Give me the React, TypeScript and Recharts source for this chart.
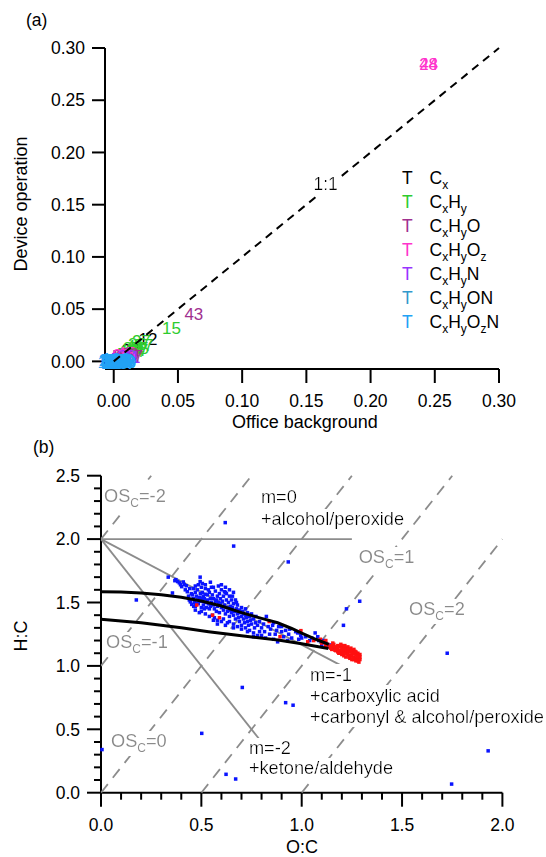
import React from "react";
import { ScatterChart, Scatter, XAxis, YAxis } from "recharts";

const FONT = '"Liberation Sans", Arial, Helvetica, sans-serif';
const FS = 17.5;
const NOTE_FS = 18.2;

// ---------- panel (a): fragment m/z labels, office background vs device operation ----------
const aTicks = [0, 0.05, 0.1, 0.15, 0.2, 0.25, 0.3];

const cxLabels = [
  { t: "12", x: 0.0266, y: 0.0215 },
  { t: "24", x: 0.0135, y: 0.0105 },
  { t: "36", x: 0.0045, y: 0.0025 },
];
const cxhyLabels = [
  { t: "15", x: 0.0449, y: 0.032 },
  { t: "27", x: 0.0215, y: 0.0195 },
  { t: "26", x: 0.0185, y: 0.017 },
  { t: "41", x: 0.017, y: 0.0145 },
  { t: "39", x: 0.0145, y: 0.0125 },
  { t: "55", x: 0.02, y: 0.0125 },
  { t: "57", x: 0.0235, y: 0.0155 },
  { t: "13", x: 0.012, y: 0.01 },
  { t: "14", x: 0.016, y: 0.0095 },
  { t: "53", x: 0.01, y: 0.0075 },
  { t: "67", x: 0.0195, y: 0.0105 },
];
const cxhyoLabels = [
  { t: "43", x: 0.0624, y: 0.0457 },
  { t: "29", x: 0.0125, y: 0.0075 },
  { t: "31", x: 0.0095, y: 0.0062 },
  { t: "55", x: 0.006, y: 0.005 },
  { t: "57", x: 0.0155, y: 0.0055 },
  { t: "42", x: 0.0035, y: 0.004 },
  { t: "30", x: 0.0075, y: 0.003 },
];
const cxhyozLabels = [
  { t: "44", x: 0.2452, y: 0.285 },
  { t: "28", x: 0.2452, y: 0.285 },
  { t: "45", x: 0.0095, y: 0.008 },
  { t: "60", x: 0.006, y: 0.0065 },
];
const cxhynLabels = [
  { t: "30", x: 0.0105, y: 0.005 },
  { t: "41", x: 0.0135, y: 0.0045 },
  { t: "56", x: 0.005, y: 0.0025 },
];
const cxhyonLabels = [
  { t: "46", x: 0.004, y: 0.0015 },
  { t: "58", x: 0.0015, y: 0.001 },
];
const cxhyoznLabels = [
  { t: "46", x: 0.001, y: 0.0005 },
  { t: "62", x: 0.003, y: -0.0005 },
  { t: "74", x: 0.005, y: 0.0 },
  { t: "76", x: -0.002, y: 0.0 },
  { t: "88", x: 0.0065, y: 0.001 },
  { t: "90", x: -0.003, y: 0.0015 },
  { t: "102", x: 0.002, y: 0.002 },
  { t: "104", x: 0.004, y: -0.0015 },
  { t: "118", x: 0.0005, y: -0.002 },
  { t: "120", x: 0.0065, y: -0.001 },
  { t: "132", x: -0.0015, y: -0.0005 },
  { t: "134", x: 0.003, y: 0.0005 },
  { t: "146", x: 0.0015, y: 0.0015 },
  { t: "148", x: 0.0055, y: 0.0005 },
  { t: "150", x: 0.0025, y: -0.001 },
  { t: "160", x: 0.0045, y: 0.001 },
  { t: "162", x: -0.001, y: 0.001 },
  { t: "176", x: 0.0035, y: 0.0012 },
  { t: "178", x: 0.0005, y: -0.0008 },
  { t: "188", x: 0.006, y: -0.0005 },
  { t: "190", x: 0.0015, y: 0.0002 },
  { t: "204", x: 0.0035, y: -0.0018 },
  { t: "206", x: -0.0005, y: 0.0018 },
  { t: "220", x: 0.005, y: 0.0018 },
];

const familyNames = ["C_x", "C_xH_y", "C_xH_yO", "C_xH_yO_z", "C_xH_yN", "C_xH_yON", "C_xH_yO_zN"];
const familyColors = ["#000000", "#2ecc2e", "#a0308f", "#ff33cc", "#9933ff", "#3399cc", "#22a2f5"];
const familyLabels = [cxLabels, cxhyLabels, cxhyoLabels, cxhyozLabels, cxhynLabels, cxhyonLabels, cxhyoznLabels];

const oneToOne = [
  { x: 0, y: 0 },
  { x: 0.3, y: 0.3 },
];
const aNotes = [{ t: "1:1", x: 0.165, y: 0.164 }];

// ---------- panel (b): Van Krevelen ----------
const bXTicks = [0, 0.1, 0.2, 0.3, 0.4, 0.5, 0.6, 0.7, 0.8, 0.9, 1.0, 1.1, 1.2, 1.3, 1.4, 1.5, 1.6, 1.7, 1.8, 1.9, 2.0];
const bYTicks = [0, 0.1, 0.2, 0.3, 0.4, 0.5, 0.6, 0.7, 0.8, 0.9, 1.0, 1.1, 1.2, 1.3, 1.4, 1.5, 1.6, 1.7, 1.8, 1.9, 2.0, 2.1, 2.2, 2.3, 2.4, 2.5];

// OSc = -2 .. 2 guide lines
const oscLines = [
  [[0, 2], [0.25, 2.5]],
  [[0, 1], [0.75, 2.5]],
  [[0, 0], [1.25, 2.5]],
  [[0.5, 0], [1.75, 2.5]],
  [[1, 0], [2, 2]],
];
// slope lines m=0, m=-1, m=-2
const slopeLines = [
  [[0, 2], [1.25, 2]],
  [[0, 2], [1.2, 1.0]],
  [[0, 2], [0.8, 0.4]],
];

const upperCurve = [
  [0, 1.585], [0.1, 1.582], [0.2, 1.574], [0.3, 1.562], [0.4, 1.542], [0.5, 1.512], [0.6, 1.472],
  [0.7, 1.42], [0.8, 1.375], [0.88, 1.34], [0.95, 1.295], [1.0, 1.258], [1.07, 1.21], [1.135, 1.17],
];
const lowerCurve = [
  [0, 1.367], [0.2, 1.34], [0.4, 1.3], [0.536, 1.27], [0.7, 1.238], [0.882, 1.204], [1.0, 1.175], [1.133, 1.138],
];

const bluePts = [
  [0.619, 2.13], [0.661, 1.945], [0.933, 1.82], [0.176, 1.52], [1.223, 1.45], [1.289, 1.51], [1.208, 1.32],
  [1.725, 1.1], [0.704, 0.83], [0.92, 0.71], [0.957, 0.69], [0.502, 0.468], [0.005, 0.34], [0.623, 0.145],
  [0.671, 0.108], [1.929, 0.33], [1.747, 0.068], [1.23, 1.12], [1.27, 1.1],
  [0.335, 1.7], [0.356, 1.575], [0.373, 1.68], [0.382, 1.665], [0.39, 1.655], [0.396, 1.64], [0.402, 1.625], [0.368, 1.672],
  [0.41, 1.662], [0.415, 1.642], [0.42, 1.6], [0.425, 1.632], [0.43, 1.585], [0.436, 1.55], [0.44, 1.52], [0.445, 1.505],
  [0.442, 1.61], [0.45, 1.57], [0.452, 1.485],
  [0.455, 1.56], [0.46, 1.53], [0.46, 1.61], [0.465, 1.5], [0.47, 1.58], [0.47, 1.47], [0.475, 1.55], [0.48, 1.52],
  [0.48, 1.6], [0.485, 1.49], [0.49, 1.54], [0.494, 1.7], [0.494, 1.665], [0.495, 1.57], [0.5, 1.51], [0.5, 1.46],
  [0.462, 1.47], [0.472, 1.49],
  [0.505, 1.58], [0.51, 1.55], [0.51, 1.48], [0.515, 1.53], [0.52, 1.5], [0.52, 1.61], [0.525, 1.46], [0.53, 1.56],
  [0.53, 1.52], [0.535, 1.49], [0.54, 1.58], [0.54, 1.45], [0.545, 1.53], [0.55, 1.5], [0.55, 1.62], [0.52, 1.565],
  [0.535, 1.6], [0.545, 1.47], [0.505, 1.535], [0.515, 1.45],
  [0.555, 1.56], [0.56, 1.48], [0.56, 1.53], [0.565, 1.45], [0.57, 1.59], [0.57, 1.51], [0.575, 1.43], [0.58, 1.55],
  [0.58, 1.47], [0.585, 1.5], [0.59, 1.42], [0.59, 1.57], [0.595, 1.53], [0.6, 1.46], [0.6, 1.6], [0.555, 1.4],
  [0.565, 1.38], [0.58, 1.36], [0.575, 1.52], [0.595, 1.49],
  [0.605, 1.51], [0.61, 1.44], [0.61, 1.55], [0.615, 1.48], [0.62, 1.41], [0.62, 1.58], [0.625, 1.52], [0.63, 1.46],
  [0.63, 1.43], [0.635, 1.5], [0.64, 1.39], [0.64, 1.55], [0.645, 1.47], [0.65, 1.42], [0.65, 1.52], [0.61, 1.37],
  [0.63, 1.34], [0.625, 1.57], [0.615, 1.585], [0.645, 1.44],
  [0.655, 1.46], [0.66, 1.4], [0.66, 1.49], [0.665, 1.43], [0.67, 1.37], [0.67, 1.52], [0.675, 1.45], [0.68, 1.41],
  [0.68, 1.48], [0.685, 1.38], [0.69, 1.44], [0.69, 1.35], [0.695, 1.42], [0.7, 1.39], [0.7, 1.46], [0.66, 1.33],
  [0.68, 1.31], [0.675, 1.5], [0.655, 1.55],
  [0.705, 1.43], [0.71, 1.37], [0.71, 1.41], [0.715, 1.34], [0.72, 1.4], [0.72, 1.45], [0.725, 1.38], [0.73, 1.35],
  [0.73, 1.42], [0.735, 1.32], [0.74, 1.39], [0.745, 1.36], [0.75, 1.41], [0.75, 1.33], [0.72, 1.3], [0.74, 1.28],
  [0.76, 1.37], [0.765, 1.3], [0.77, 1.34], [0.772, 1.39], [0.78, 1.32], [0.79, 1.35], [0.79, 1.27], [0.8, 1.3],
  [0.81, 1.33], [0.815, 1.27], [0.824, 1.39], [0.833, 1.31], [0.84, 1.25], [0.845, 1.29], [0.76, 1.26], [0.8, 1.24],
  [0.855, 1.32], [0.868, 1.25], [0.875, 1.28], [0.885, 1.31], [0.9, 1.27], [0.91, 1.23], [0.92, 1.28], [0.935, 1.25],
  [0.95, 1.22], [0.97, 1.27], [0.985, 1.21], [0.995, 1.24],
  [1.02, 1.23], [1.04, 1.2], [1.067, 1.26], [1.085, 1.2], [1.1, 1.17], [1.12, 1.18], [1.145, 1.165], [1.16, 1.14],
  [1.18, 1.12], [1.2, 1.11], [1.26, 1.11],
  [0.47, 1.63], [0.485, 1.64], [0.5, 1.62], [0.505, 1.65], [0.52, 1.64], [0.545, 1.66], [0.56, 1.62], [0.585, 1.63],
  [0.6, 1.64], [0.62, 1.62], [0.64, 1.6], [0.66, 1.58],
  [0.5, 1.43], [0.52, 1.41], [0.54, 1.39], [0.56, 1.36], [0.6, 1.35], [0.62, 1.32], [0.64, 1.35], [0.66, 1.3],
  [0.7, 1.32], [0.7, 1.29], [0.73, 1.27], [0.76, 1.23], [0.78, 1.24], [0.82, 1.22], [0.86, 1.21], [0.88, 1.19],
  [0.93, 1.2], [0.47, 1.44], [0.49, 1.42], [0.58, 1.33],
  [0.86, 1.34], [0.9, 1.31], [0.94, 1.29], [0.98, 1.26], [1.0, 1.22], [1.05, 1.22], [1.08, 1.23], [1.11, 1.2], [1.13, 1.15],
];

const redPts = [
  [0.477, 1.48], [0.556, 1.4], [0.59, 1.38], [0.838, 1.35], [0.892, 1.23], [0.996, 1.278], [1.03, 1.19],
  [1.093, 1.21], [1.12, 1.2], [1.06, 1.2],
  [1.13, 1.17], [1.14, 1.15], [1.15, 1.16], [1.15, 1.13], [1.16, 1.17], [1.16, 1.15], [1.17, 1.14], [1.17, 1.12],
  [1.18, 1.16], [1.18, 1.13], [1.18, 1.11], [1.19, 1.15], [1.19, 1.12], [1.19, 1.1], [1.2, 1.16], [1.2, 1.14],
  [1.2, 1.12], [1.2, 1.09], [1.21, 1.15], [1.21, 1.13], [1.21, 1.11], [1.21, 1.08], [1.22, 1.14], [1.22, 1.12],
  [1.22, 1.1], [1.22, 1.07], [1.23, 1.15], [1.23, 1.13], [1.23, 1.11], [1.23, 1.09], [1.24, 1.13], [1.24, 1.11],
  [1.24, 1.08], [1.24, 1.06], [1.25, 1.12], [1.25, 1.1], [1.25, 1.08], [1.25, 1.05], [1.26, 1.13], [1.26, 1.1],
  [1.26, 1.07], [1.26, 1.05], [1.27, 1.11], [1.27, 1.09], [1.27, 1.06], [1.27, 1.04], [1.28, 1.1], [1.28, 1.08],
  [1.28, 1.06], [1.28, 1.04], [1.29, 1.09], [1.29, 1.07], [1.29, 1.05], [1.145, 1.14], [1.155, 1.18], [1.165, 1.125],
  [1.175, 1.15], [1.185, 1.1], [1.195, 1.17], [1.205, 1.1], [1.215, 1.16], [1.235, 1.07], [1.245, 1.14],
  [1.255, 1.06], [1.265, 1.115], [1.275, 1.075], [1.285, 1.03], [1.12, 1.16], [1.11, 1.19], [1.1, 1.18],
];

const grayNotes = [
  { t: "OS_C=-2", x: 0.015, y: 2.295 },
  { t: "OS_C=-1", x: 0.025, y: 1.141 },
  { t: "OS_C=0", x: 0.05, y: 0.36 },
  { t: "OS_C=1", x: 1.284, y: 1.811 },
  { t: "OS_C=2", x: 1.535, y: 1.401 },
];
const blackNotes = [
  { t: "m=0", x: 0.797, y: 2.285 },
  { t: "+alcohol/peroxide", x: 0.797, y: 2.111 },
  { t: "m=-1", x: 1.041, y: 0.883 },
  { t: "+carboxylic acid", x: 1.041, y: 0.718 },
  { t: "+carbonyl & alcohol/peroxide", x: 1.041, y: 0.552 },
  { t: "m=-2", x: 0.737, y: 0.305 },
  { t: "+ketone/aldehyde", x: 0.737, y: 0.147 },
];

const toXY = (pts: number[][]) => pts.map(([x, y]) => ({ x, y }));

// text with "_c" = subscript c
function rich(s: string) {
  const out: React.ReactNode[] = [];
  let buf = "";
  let down = false;
  let k = 0;
  for (let i = 0; i < s.length; i++) {
    if (s[i] === "_" && i + 1 < s.length) {
      if (buf) {
        out.push(<tspan key={k++} dy={down ? -5 : 0}>{buf}</tspan>);
        down = false;
      }
      out.push(
        <tspan key={k++} fontSize={12} dy={down ? 0 : 5}>
          {s[i + 1]}
        </tspan>
      );
      down = true;
      buf = "";
      i++;
    } else {
      buf += s[i];
    }
  }
  if (buf) out.push(<tspan key={k++} dy={down ? -5 : 0}>{buf}</tspan>);
  return out;
}

const empty = () => <g />;

const labelShape = (color: string) => (p: any) => (
  <text x={p.cx} y={p.cy} dy="0.355em" textAnchor="middle" fill={color} fontSize={17} fontFamily={FONT}>
    {p.payload.t}
  </text>
);

const noteShape = (color: string, anchor: string, size: number) => (p: any) => (
  <text
    x={p.cx}
    y={p.cy}
    dy="0.355em"
    textAnchor={anchor}
    fill={color}
    fontSize={size}
    fontFamily={FONT}
    filter="url(#wb)"
  >
    {rich(p.payload.t)}
  </text>
);

const square = (color: string) => (p: any) => (
  <rect x={p.cx - 1.75} y={p.cy - 1.75} width={3.5} height={3.5} fill={color} />
);

const isMajor = (v: number) => Math.abs(v * 2 - Math.round(v * 2)) < 1e-6;

const BXTick = (p: any) => {
  const v = p.payload.value;
  const major = isMajor(v);
  return (
    <g>
      <line x1={p.x} x2={p.x} y1={p.y} y2={p.y + (major ? 14 : 7)} stroke="#000" strokeWidth={2} />
      {major && (
        <text x={p.x} y={p.y + 38} textAnchor="middle" fill="#000" fontSize={FS} fontFamily={FONT}>
          {v.toFixed(1)}
        </text>
      )}
    </g>
  );
};

const BYTick = (p: any) => {
  const v = p.payload.value;
  const major = isMajor(v);
  return (
    <g>
      <line x1={p.x} x2={p.x - (major ? 14 : 7)} y1={p.y} y2={p.y} stroke="#000" strokeWidth={2} />
      {major && (
        <text x={p.x - 21} y={p.y + 6.2} textAnchor="end" fill="#000" fontSize={FS} fontFamily={FONT}>
          {v.toFixed(1)}
        </text>
      )}
    </g>
  );
};

export default function App() {
  const axisA = {
    stroke: "#000",
    axisLine: { stroke: "#000", strokeWidth: 2 },
    tickLine: { stroke: "#000", strokeWidth: 2 },
    tick: { fill: "#000", fontSize: FS, fontFamily: FONT },
    interval: 0 as const,
    ticks: aTicks,
    tickFormatter: (v: number) => v.toFixed(2),
  };

  return (
    <div style={{ position: "absolute", left: 0, top: 0, width: 546, height: 857, fontFamily: FONT, background: "#fff" }}>
      <div style={{ position: "absolute", left: 0, top: 0 }}>
        <ScatterChart width={546} height={440} margin={{ top: 48, right: 47, left: 0, bottom: 0 }}>
          <XAxis type="number" dataKey="x" domain={[-0.0068, 0.3]} height={71} tickSize={14} tickMargin={12} {...axisA} />
          <YAxis type="number" dataKey="y" domain={[-0.0073, 0.3]} width={105} tickSize={13} tickMargin={7} {...axisA} />
          {familyLabels.map((d, i) => (
            <Scatter key={"fam" + i} data={d} shape={labelShape(familyColors[i])} isAnimationActive={false} />
          ))}
          <Scatter
            data={oneToOne}
            line={{ stroke: "#000", strokeWidth: 2, strokeDasharray: "8 6" }}
            shape={empty}
            isAnimationActive={false}
          />
          <Scatter data={aNotes} shape={noteShape("#000", "middle", FS)} isAnimationActive={false} />
        </ScatterChart>
      </div>

      <div style={{ position: "absolute", left: 0, top: 440 }}>
        <ScatterChart width={546} height={417} margin={{ top: 35.7, right: 43.6, left: 0, bottom: 0 }}>
          <XAxis
            type="number"
            dataKey="x"
            domain={[0, 2]}
            ticks={bXTicks}
            interval={0}
            height={64.3}
            tickSize={0}
            tickMargin={0}
            tickLine={false}
            axisLine={{ stroke: "#000", strokeWidth: 2 }}
            tick={(p: any) => <BXTick {...p} />}
          />
          <YAxis
            type="number"
            dataKey="y"
            domain={[0, 2.5]}
            ticks={bYTicks}
            interval={0}
            width={101}
            tickSize={0}
            tickMargin={0}
            tickLine={false}
            axisLine={{ stroke: "#000", strokeWidth: 2 }}
            tick={(p: any) => <BYTick {...p} />}
          />
          {oscLines.map((seg, i) => (
            <Scatter
              key={"osc" + i}
              data={toXY(seg)}
              line={{ stroke: "#8c8c8c", strokeWidth: 1.8, strokeDasharray: "11 8" }}
              shape={empty}
              isAnimationActive={false}
            />
          ))}
          {slopeLines.map((seg, i) => (
            <Scatter
              key={"m" + i}
              data={toXY(seg)}
              line={{ stroke: "#8c8c8c", strokeWidth: 1.8 }}
              shape={empty}
              isAnimationActive={false}
            />
          ))}
          <Scatter data={toXY(bluePts)} shape={square("#0a14ff")} isAnimationActive={false} />
          <Scatter data={toXY(redPts)} shape={square("#ff1010")} isAnimationActive={false} />
          <Scatter data={toXY(upperCurve)} line={{ stroke: "#000", strokeWidth: 3 }} shape={empty} isAnimationActive={false} />
          <Scatter data={toXY(lowerCurve)} line={{ stroke: "#000", strokeWidth: 3 }} shape={empty} isAnimationActive={false} />
          <Scatter data={grayNotes} shape={noteShape("#8a8a8a", "start", NOTE_FS)} isAnimationActive={false} />
          <Scatter data={blackNotes} shape={noteShape("#000", "start", NOTE_FS)} isAnimationActive={false} />
        </ScatterChart>
      </div>

      <svg
        width={546}
        height={857}
        style={{ position: "absolute", left: 0, top: 0, pointerEvents: "none" }}
        fontFamily={FONT}
      >
        <defs>
          <filter id="wb" x="0" y="0" width="1" height="1">
            <feFlood floodColor="#ffffff" result="bg" />
            <feMerge>
              <feMergeNode in="bg" />
              <feMergeNode in="SourceGraphic" />
            </feMerge>
          </filter>
        </defs>
        <text x={26} y={26} fontSize={FS} fill="#000">(a)</text>
        <text x={33} y={453} fontSize={FS} fill="#000">(b)</text>
        <text transform="translate(27.2,204) rotate(-90)" textAnchor="middle" fontSize={18} fill="#000">
          Device operation
        </text>
        <text x={305} y={428} textAnchor="middle" fontSize={18} fill="#000">
          Office background
        </text>
        <text transform="translate(27.2,636) rotate(-90)" textAnchor="middle" fontSize={18} fill="#000">
          H:C
        </text>
        <text x={302} y={853} textAnchor="middle" fontSize={18} fill="#000">
          O:C
        </text>
        {familyNames.map((n, i) => (
          <g key={"lg" + i}>
            <text x={402} y={178 + 24 * i + 6.2} fontSize={FS} fill={familyColors[i]}>
              T
            </text>
            <text x={429.5} y={178 + 24 * i + 6.2} fontSize={FS} fill="#000">
              {rich(n)}
            </text>
          </g>
        ))}
      </svg>
    </div>
  );
}
